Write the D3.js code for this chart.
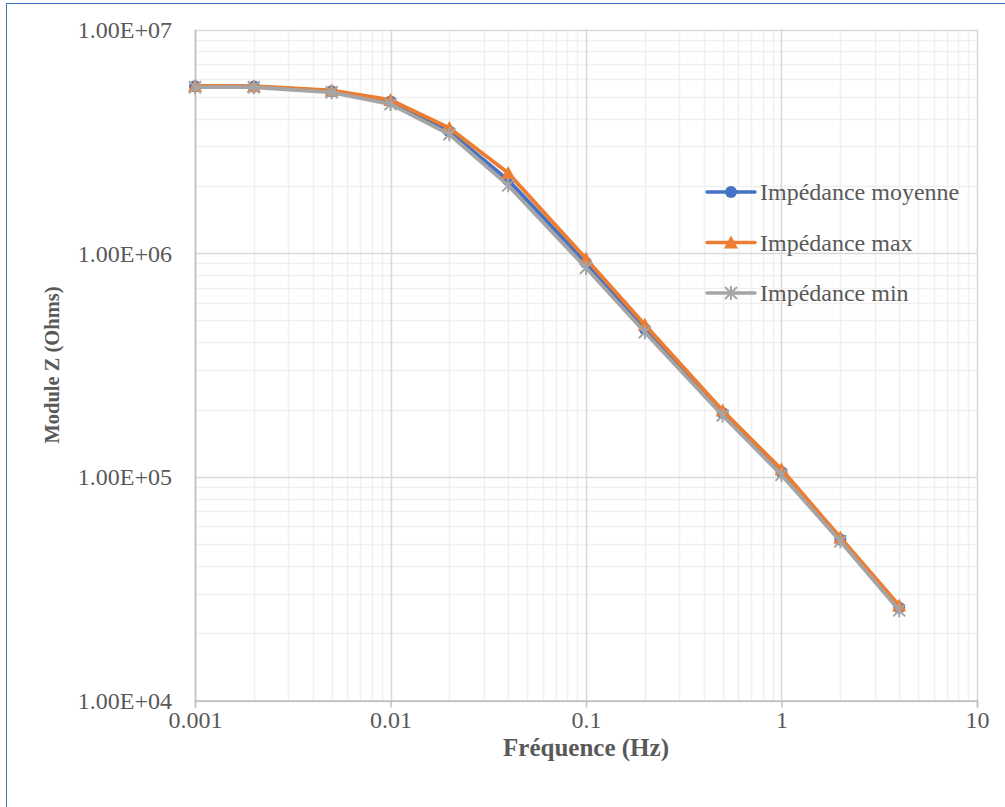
<!DOCTYPE html>
<html>
<head>
<meta charset="utf-8">
<script src="https://cdn.jsdelivr.net/npm/d3@7"></script>
<style>
  html, body { margin: 0; padding: 0; background: #fff; }
  svg { display: block; }
  text { font-family: "Liberation Serif", "Times New Roman", serif; }
</style>
</head>
<body>
<svg id="chart" width="1005" height="807"></svg>
<script>
// Frequencies (Hz) and impedance modulus (Ohms)
const frequencies = [0.001, 0.002, 0.005, 0.01, 0.02, 0.04, 0.1, 0.2, 0.5, 1, 2, 4];
const zMean = [5.58e6, 5.56e6, 5.30e6, 4.76e6, 3.50e6, 2.12e6, 9.05e5, 4.58e5, 1.93e5, 1.05e5, 5.25e4, 2.60e4];
const zMax  = [5.60e6, 5.58e6, 5.34e6, 4.84e6, 3.63e6, 2.28e6, 9.45e5, 4.78e5, 1.98e5, 1.08e5, 5.35e4, 2.66e4];
const zMin  = [5.52e6, 5.52e6, 5.24e6, 4.64e6, 3.40e6, 2.01e6, 8.60e5, 4.43e5, 1.88e5, 1.02e5, 5.15e4, 2.53e4];

const seriesNames = ["Impédance moyenne", "Impédance max", "Impédance min"];
const xTickLabels = ["0.001", "0.01", "0.1", "1", "10"];
const yTickLabels = ["1.00E+04", "1.00E+05", "1.00E+06", "1.00E+07"];

const xTitle = "Fréquence (Hz)";
const yTitle = "Module Z (Ohms)";

const series = [
  { name: seriesNames[0], values: zMean, color: "#4472C4", marker: "circle" },
  { name: seriesNames[1], values: zMax,  color: "#ED7D31", marker: "triangle" },
  { name: seriesNames[2], values: zMin,  color: "#A5A5A5", marker: "star" }
];

const svg = d3.select("#chart");
const W = 1005, H = 807;
const FONT = 24;
const X_TITLE_FONT = 25;
const Y_TITLE_FONT = 20.5;
const TEXT_COLOR = "#595959";

// chart frame
svg.append("rect")
  .attr("x", 6.5).attr("y", 3.5)
  .attr("width", W + 10).attr("height", H + 10)
  .attr("fill", "#fff").attr("stroke", "#4472C4").attr("stroke-width", 1);

const plot = { left: 195, right: 977, top: 29.5, bottom: 700.5 };

const x = d3.scaleLog().domain([0.001, 10]).range([plot.left, plot.right]);
const y = d3.scaleLog().domain([1e4, 1e7]).range([plot.bottom, plot.top]);

// minor and major grid values
const minorX = [], minorY = [];
for (let e = -3; e < 1; e++) for (let m = 2; m <= 9; m++) minorX.push(m * Math.pow(10, e));
for (let e = 4; e < 7; e++) for (let m = 2; m <= 9; m++) minorY.push(m * Math.pow(10, e));
const majorX = xTickLabels.map(Number);
const majorY = yTickLabels.map(Number);

const grid = svg.append("g");
grid.selectAll(".mx").data(minorX).join("line")
  .attr("x1", d => Math.round(x(d)) + 0.5).attr("x2", d => Math.round(x(d)) + 0.5)
  .attr("y1", plot.top).attr("y2", plot.bottom)
  .attr("stroke", "#f0f0f0").attr("stroke-width", 1.6);
grid.selectAll(".my").data(minorY).join("line")
  .attr("y1", d => Math.round(y(d)) + 0.5).attr("y2", d => Math.round(y(d)) + 0.5)
  .attr("x1", plot.left).attr("x2", plot.right)
  .attr("stroke", "#f0f0f0").attr("stroke-width", 1.4);
grid.selectAll(".Mx").data(majorX).join("line")
  .attr("x1", d => Math.round(x(d)) + 0.5).attr("x2", d => Math.round(x(d)) + 0.5)
  .attr("y1", plot.top).attr("y2", plot.bottom)
  .attr("stroke", "#d9d9d9").attr("stroke-width", 1.6);
grid.selectAll(".My").data(majorY).join("line")
  .attr("y1", d => Math.round(y(d)) + 0.5).attr("y2", d => Math.round(y(d)) + 0.5)
  .attr("x1", plot.left).attr("x2", plot.right)
  .attr("stroke", "#d9d9d9").attr("stroke-width", 1.4);

// axes
const xAxis = d3.axisBottom(x).tickValues(majorX)
  .tickFormat((d, i) => xTickLabels[i]).tickSize(7);
const gx = svg.append("g").attr("transform", `translate(0,${plot.bottom})`).call(xAxis);
gx.select(".domain").attr("stroke", "#bfbfbf").attr("stroke-width", 1.5);
gx.selectAll(".tick line").attr("stroke", "#bfbfbf").attr("stroke-width", 1.5);
gx.selectAll("text")
  .attr("y", 27).attr("dy", null)
  .attr("font-size", FONT).attr("fill", TEXT_COLOR)
  .style("font-family", "'Liberation Serif', serif");

const yAxis = d3.axisLeft(y).tickValues(majorY)
  .tickFormat((d, i) => yTickLabels[i]).tickSize(0);
const gy = svg.append("g").attr("transform", `translate(${plot.left},0)`).call(yAxis);
gy.select(".domain").attr("stroke", "#bfbfbf").attr("stroke-width", 1.5);
gy.selectAll("text")
  .attr("x", -23).attr("dy", null).attr("y", 8)
  .attr("font-size", FONT).attr("fill", TEXT_COLOR)
  .style("font-family", "'Liberation Serif', serif");

// axis titles
svg.append("text")
  .attr("x", (plot.left + plot.right) / 2).attr("y", 755.5)
  .attr("text-anchor", "middle").attr("font-size", X_TITLE_FONT).attr("font-weight", "bold")
  .attr("fill", TEXT_COLOR).text(xTitle);
svg.append("text")
  .attr("transform", `translate(59,${(plot.top + plot.bottom) / 2}) rotate(-90)`)
  .attr("text-anchor", "middle").attr("font-size", Y_TITLE_FONT).attr("font-weight", "bold")
  .attr("fill", TEXT_COLOR).text(yTitle);

// marker drawing
function drawMarker(g, type, color, cx, cy) {
  if (type === "circle") {
    g.append("circle").attr("cx", cx).attr("cy", cy).attr("r", 6)
      .attr("fill", color);
  } else if (type === "triangle") {
    const w = 7, h = 6;
    g.append("path")
      .attr("d", `M${cx},${cy - h - 1} L${cx + w},${cy + h} L${cx - w},${cy + h} Z`)
      .attr("fill", color);
  } else {
    const s = 6;
    g.append("path")
      .attr("d", `M${cx - s},${cy - s} L${cx + s},${cy + s} M${cx - s},${cy + s} L${cx + s},${cy - s} M${cx},${cy - s - 1} L${cx},${cy + s + 1}`)
      .attr("stroke", color).attr("stroke-width", 2).attr("fill", "none");
  }
}

const line = d3.line().x(d => x(d[0])).y(d => y(d[1]));

series.forEach(s => {
  const pts = frequencies.map((f, i) => [f, s.values[i]]);
  const g = svg.append("g");
  g.append("path").datum(pts).attr("d", line)
    .attr("fill", "none").attr("stroke", s.color).attr("stroke-width", 3.8)
    .attr("stroke-linejoin", "round").attr("stroke-linecap", "round");
  pts.forEach(p => drawMarker(g, s.marker, s.color, x(p[0]), y(p[1])));
});

// legend
const legend = svg.append("g");
series.forEach((s, i) => {
  const ly = 192 + i * 50.5;
  legend.append("line").attr("x1", 707).attr("x2", 755).attr("y1", ly).attr("y2", ly)
    .attr("stroke", s.color).attr("stroke-width", 3.5).attr("stroke-linecap", "round");
  drawMarker(legend, s.marker, s.color, 731, ly);
  legend.append("text")
    .attr("x", 760).attr("y", ly + 8)
    .attr("font-size", FONT).attr("fill", TEXT_COLOR).text(s.name);
});
</script>
</body>
</html>
